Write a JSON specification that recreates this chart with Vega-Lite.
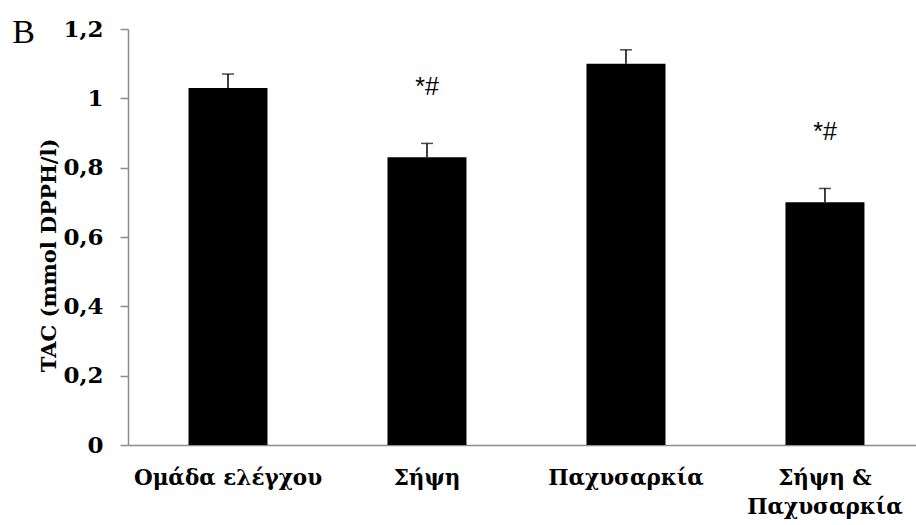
{
  "$schema": "https://vega.github.io/schema/vega-lite/v6.json",
  "autosize": "none",
  "width": 788,
  "height": 416,
  "padding": {"left": 128, "top": 29, "right": 0, "bottom": 80},
  "background": "white",
  "title": {"text": "B", "anchor": "end", "frame": "group", "orient": "left", "angle": 0, "align": "left", "baseline": "alphabetic", "offset": 0, "dx": -4, "dy": 14, "font": "Liberation Serif", "fontSize": 34, "fontWeight": "normal", "color": "black"},
  "config": {"view": {"stroke": null}},
  "data": {"values": [
    {"group": "Ομάδα ελέγχου", "value": 1.03, "err": 0.04, "sig": ""},
    {"group": "Σήψη", "value": 0.83, "err": 0.04, "sig": "*#"},
    {"group": "Παχυσαρκία", "value": 1.10, "err": 0.04, "sig": ""},
    {"group": "Σήψη & Παχυσαρκία", "value": 0.70, "err": 0.04, "sig": "*#"}
  ]},
  "transform": [{"calculate": "datum.value + datum.err", "as": "hi"}],
  "encoding": {
    "x": {"field": "group", "type": "nominal", "sort": null,
      "scale": {"paddingInner": 0.603, "paddingOuter": 0.2815, "align": 0.54},
      "axis": {"title": null, "labelAngle": 0, "ticks": false, "domainColor": "#8c8c8c", "domainWidth": 1.5,
        "labelFont": "DejaVu Serif", "labelFontWeight": "bold", "labelFontSize": 21.5, "labelColor": "black",
        "labelPadding": 22, "labelLineHeight": 29, "labelBaseline": "top", "labelLimit": 0, "labelOverlap": false,
        "labelExpr": "datum.value == 'Σήψη & Παχυσαρκία' ? ['Σήψη &', 'Παχυσαρκία'] : datum.label"}}
  },
  "layer": [
    {"mark": {"type": "bar", "color": "black"},
      "encoding": {"y": {"field": "value", "type": "quantitative",
        "scale": {"domain": [0, 1.2], "nice": false},
        "axis": {"title": "TAC (mmol DPPH/l)", "values": [0, 0.2, 0.4, 0.6, 0.8, 1, 1.2],
          "grid": false, "domainColor": "#8c8c8c", "domainWidth": 1.5, "tickColor": "#8c8c8c", "tickWidth": 1.5, "tickSize": 8,
          "labelFont": "DejaVu Serif", "labelFontWeight": "bold", "labelFontSize": 23, "labelColor": "black", "labelPadding": 17,
          "labelExpr": "replace(format(datum.value, '.1~f'), '.', ',')",
          "titleFont": "DejaVu Serif", "titleFontWeight": "bold", "titleFontSize": 21, "titleColor": "black", "titlePadding": 3, "titleY": 226}}}},
    {"mark": {"type": "rule", "color": "black", "strokeWidth": 1.5},
      "encoding": {"y": {"field": "value", "type": "quantitative"}, "y2": {"field": "hi"}}},
    {"mark": {"type": "tick", "color": "black", "orient": "horizontal", "size": 12, "thickness": 1.5},
      "encoding": {"y": {"field": "hi", "type": "quantitative"}}},
    {"mark": {"type": "text", "font": "Liberation Sans", "fontSize": 25, "color": "black", "baseline": "middle", "dy": -56},
      "encoding": {"y": {"field": "hi", "type": "quantitative"}, "text": {"field": "sig"}}}
  ]
}
